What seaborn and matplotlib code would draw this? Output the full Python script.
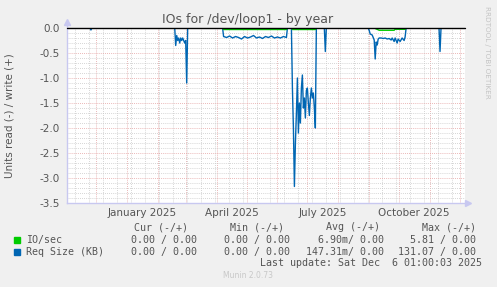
import numpy as np
import pandas as pd
import matplotlib
matplotlib.use("Agg")
import matplotlib.pyplot as plt
import matplotlib.dates as mdates
import matplotlib.transforms as mtrans
from matplotlib.ticker import MultipleLocator, FixedLocator
import seaborn as sns

# ---------------- data ----------------
req_dates = [
    "2024-11-25", "2024-11-26", "2024-11-27",
    "2025-02-18", "2025-02-19", "2025-02-20", "2025-02-21", "2025-02-22", "2025-02-23",
    "2025-02-24", "2025-02-25", "2025-02-26", "2025-02-27", "2025-02-28", "2025-03-01",
    "2025-03-02", "2025-03-03",
    "2025-04-07", "2025-04-08", "2025-04-11", "2025-04-14", "2025-04-17", "2025-04-20",
    "2025-04-23", "2025-04-26", "2025-04-29", "2025-05-02", "2025-05-05", "2025-05-08",
    "2025-05-11", "2025-05-14", "2025-05-17", "2025-05-20", "2025-05-23", "2025-05-26",
    "2025-05-29", "2025-06-01", "2025-06-04", "2025-06-07", "2025-06-10", "2025-06-11",
    "2025-06-15", "2025-06-16", "2025-06-17", "2025-06-18", "2025-06-19", "2025-06-20",
    "2025-06-21", "2025-06-22", "2025-06-23", "2025-06-24", "2025-06-25", "2025-06-26",
    "2025-06-27", "2025-06-28", "2025-06-29", "2025-06-30", "2025-07-01", "2025-07-02",
    "2025-07-03", "2025-07-04", "2025-07-05", "2025-07-06", "2025-07-07", "2025-07-08",
    "2025-07-09", "2025-07-10",
    "2025-07-18", "2025-07-19", "2025-07-20",
    "2025-08-31", "2025-09-01", "2025-09-02", "2025-09-04", "2025-09-06", "2025-09-07",
    "2025-09-08", "2025-09-09", "2025-09-10", "2025-09-11", "2025-09-13", "2025-09-15",
    "2025-09-17", "2025-09-19", "2025-09-21", "2025-09-23", "2025-09-24", "2025-09-26",
    "2025-09-27", "2025-09-29", "2025-09-30", "2025-10-02", "2025-10-04", "2025-10-06",
    "2025-10-07", "2025-10-08",
    "2025-11-10", "2025-11-11", "2025-11-12",
]
req_values = [
    0.0, -0.04, 0.0,
    0.0, -0.35, -0.15, -0.25, -0.20, -0.30,
    -0.20, -0.25, -0.20, -0.25, -0.30, -0.25,
    -1.10, 0.0,
    0.0, -0.17, -0.19, -0.16, -0.20, -0.17,
    -0.19, -0.22, -0.17, -0.20, -0.18, -0.15,
    -0.20, -0.18, -0.21, -0.17, -0.19, -0.16,
    -0.20, -0.18, -0.20, -0.17, -0.19, 0.0,
    0.0, -1.20, -2.00, -3.17, -2.30, -1.70,
    -1.00, -2.10, -1.50, -1.90, -1.20, -0.94,
    -1.60, -1.40, -1.80, -1.25, -1.20, -1.50,
    -1.75, -1.40, -1.20, -1.40, -1.30, -1.60,
    -2.00, 0.0,
    0.0, -0.47, 0.0,
    0.0, -0.05, -0.12, -0.14, -0.24, -0.62,
    -0.28, -0.34, -0.22, -0.20, -0.20, -0.21,
    -0.20, -0.22, -0.21, -0.24, -0.20, -0.27,
    -0.20, -0.30, -0.22, -0.27, -0.20, -0.25,
    -0.18, 0.0,
    0.0, -0.47, 0.0,
]

io_dates = [
    "2025-04-07", "2025-04-08", "2025-06-10", "2025-06-11",
    "2025-06-15", "2025-06-16", "2025-07-09", "2025-07-10",
    "2025-09-06", "2025-09-11", "2025-09-26", "2025-09-27", "2025-10-07", "2025-10-08",
]
io_values = [
    0.0, -0.03, -0.03, 0.0,
    0.0, -0.03, -0.03, 0.0,
    0.0, -0.045, -0.045, -0.025, -0.025, 0.0,
]

month_labels = ["January 2025", "April 2025", "July 2025", "October 2025"]
month_label_dates = ["2025-01-16", "2025-04-16", "2025-07-16", "2025-10-16"]

legend_names = ["IO/sec", "Req Size (KB)"]
legend_colors = ["#00cc00", "#0066b3"]
col_headers = ["Cur (-/+)", "Min (-/+)", "Avg (-/+)", "Max (-/+)"]
cur_vals = ["0.00 / 0.00", "0.00 / 0.00"]
min_vals = ["0.00 / 0.00", "0.00 / 0.00"]
avg_vals = ["6.90m/ 0.00", "147.31m/ 0.00"]
max_vals = ["5.81 / 0.00", "131.07 / 0.00"]

title = "IOs for /dev/loop1 - by year"
ylabel = "Units read (-) / write (+)"
last_update = "Last update: Sat Dec  6 01:00:03 2025"

# ---------------- figure ----------------
sns.set_style("white")
plt.rcParams["font.family"] = ["DejaVu Sans"]
plt.rcParams["axes.unicode_minus"] = False

W, H = 497, 287
fig = plt.figure(figsize=(W / 100, H / 100), dpi=100, facecolor="#f0f0f0")
ax = fig.add_axes([67 / W, 84 / H, 398 / W, 175 / H])
ax.set_facecolor("#ffffff")

req_df = pd.DataFrame({"date": pd.to_datetime(req_dates), "value": req_values})
io_df = pd.DataFrame({"date": pd.to_datetime(io_dates), "value": io_values})

sns.lineplot(data=req_df, x="date", y="value", ax=ax, color="#0066b3", lw=1.0,
             estimator=None, sort=True, zorder=3)
sns.lineplot(data=io_df, x="date", y="value", ax=ax, color="#00cc00", lw=1.0,
             estimator=None, sort=True, zorder=4)
ax.axhline(0, color="#000000", lw=1.0, zorder=5, clip_on=False)

x0 = pd.Timestamp("2024-11-02 00:00")
x1 = pd.Timestamp("2025-12-06 01:00")
ax.set_xlim(x0, x1)
ax.set_ylim(-3.5, 0.0)

# grids
ax.xaxis.set_major_locator(mdates.MonthLocator())
ax.xaxis.set_major_formatter(plt.NullFormatter())
minor_dates = pd.date_range("2024-11-10", "2025-12-06", freq="14D")
ax.xaxis.set_minor_locator(FixedLocator(mdates.date2num(minor_dates)))
ax.yaxis.set_major_locator(MultipleLocator(0.5))
ax.yaxis.set_minor_locator(MultipleLocator(0.1))
ax.yaxis.set_major_formatter(plt.FuncFormatter(lambda v, p: f"{v:.1f}"))

ax.grid(which="minor", color="#c8c8c8", lw=0.6, ls=(0, (1, 1.5)), zorder=0)
ax.grid(which="major", color="#e4a0a0", lw=0.6, ls=(0, (1, 1.5)), zorder=1)
ax.set_axisbelow(True)

for s in ["top", "right"]:
    ax.spines[s].set_visible(False)
ax.spines["left"].set_color("#c8c8f0")
ax.spines["bottom"].set_color("#c8c8f0")
ax.spines["left"].set_linewidth(1.0)
ax.spines["bottom"].set_linewidth(1.0)
ax.spines["left"].set_bounds(-3.5, 0.12)

ax.tick_params(axis="x", which="major", length=3, color="#e08080", width=0.8, direction="out")
ax.tick_params(axis="x", which="minor", length=2, color="#bbbbbb", width=0.6, direction="out")
ax.tick_params(axis="y", which="major", length=2, color="#c8c8f0", width=0.6,
               labelsize=7.5, labelcolor="#555555", pad=3)
ax.tick_params(axis="y", which="minor", length=0)
ax.set_xlabel("")
ax.set_ylabel("")

# axis arrows
ax.plot([0], [1.0 + 6 / 175], marker="^", markersize=5, color="#c8c8f0",
        transform=ax.transAxes, clip_on=False, zorder=6)
ax.plot([1.0 + 3 / 398], [0], marker=">", markersize=5, color="#c8c8f0",
        transform=ax.transAxes, clip_on=False, zorder=6)

trans_blend = mtrans.blended_transform_factory(ax.transData, ax.transAxes)
for lab, d in zip(month_labels, month_label_dates):
    ax.text(mdates.date2num(pd.Timestamp(d)), -0.055, lab, transform=trans_blend,
            ha="center", va="center", fontsize=7.5, color="#555555")

def fx(px):
    return px / W

def fy(py):
    return 1 - py / H

fig.text(fx(248), fy(19), title, ha="center", va="center", fontsize=9, color="#555555")
fig.text(fx(10), fy(115.5), ylabel, ha="center", va="center", rotation=90,
         fontsize=7.5, color="#555555")
fig.text(fx(487), fy(52), "RRDTOOL / TOBI OETIKER", ha="center", va="center",
         rotation=-90, fontsize=5.2, color="#c4c4c4")

mono = "DejaVu Sans Mono"
fs = 7.2
hdr_right = [188, 284.5, 380.5, 476.5]
val_right = [197, 290.5, 383.5, 476.5]
for h, xr in zip(col_headers, hdr_right):
    fig.text(fx(xr), fy(227.3), h, ha="right", va="center", family=mono, fontsize=fs,
             color="#555555")
rows_y = [240, 251.7]
for i, (name, col) in enumerate(zip(legend_names, legend_colors)):
    y = rows_y[i]
    fig.patches.append(plt.Rectangle((fx(14), fy(y + 3)), 6 / W, 6 / H, color=col,
                                     transform=fig.transFigure, figure=fig))
    fig.text(fx(26.5), fy(y), name, ha="left", va="center", family=mono, fontsize=fs,
             color="#555555")
    for vals, xr in zip([cur_vals, min_vals, avg_vals, max_vals], val_right):
        fig.text(fx(xr), fy(y), vals[i], ha="right", va="center", family=mono,
                 fontsize=fs, color="#555555")
fig.text(fx(482), fy(263.3), last_update, ha="right", va="center", family=mono,
         fontsize=fs, color="#555555")
fig.text(fx(248), fy(276), "Munin 2.0.73", ha="center", va="center", fontsize=5.5,
         color="#c8c8c8")

fig.savefig("out.png", dpi=100, facecolor=fig.get_facecolor())
